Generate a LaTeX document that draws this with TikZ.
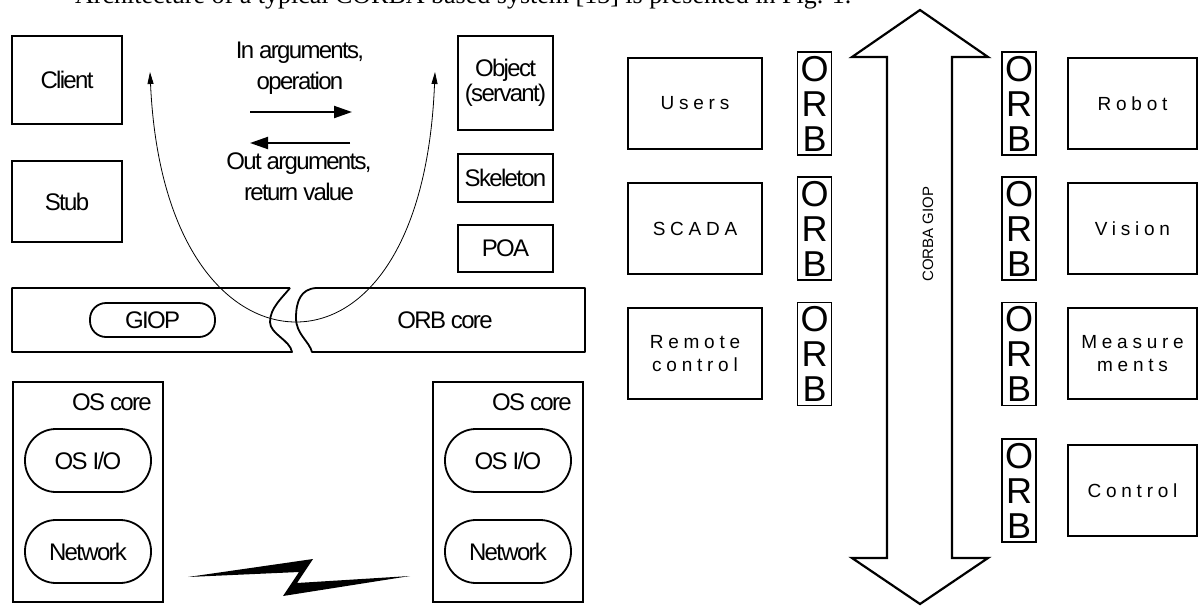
\documentclass[tikz,border=0pt]{standalone}
\usepackage{fontspec}
\setmainfont{Liberation Sans}
\newfontfamily\serifcap{Liberation Serif}
\newfontfamily\tight{Liberation Sans}[LetterSpace=-7]
\newfontfamily\wide{Liberation Sans}[LetterSpace=25]
\usetikzlibrary{arrows.meta}
\begin{document}
\begin{tikzpicture}[x=1pt,y=-1pt,
  lbox/.style={draw, line width=1.8pt, inner sep=0pt, align=center,
     font=\tight\fontsize{24}{25}\selectfont},
  ltxt/.style={inner sep=0pt, align=center, font=\tight\fontsize{24}{31}\selectfont},
  pill/.style={lbox, rounded corners=#1},
  rbox/.style={draw, line width=2pt, inner sep=0pt, align=center,
     minimum width=134pt, minimum height=91pt, font=\wide\fontsize{19}{23}\selectfont},
  orb/.style={draw, line width=1.5pt, inner sep=0pt, align=center,
     minimum width=34pt, minimum height=103pt, font=\fontsize{36}{35}\selectfont},
  thinarrow/.style={line width=0.8pt, -{Triangle[length=12pt,width=6pt]}},
  thickarrow/.style={line width=2pt, -{Triangle[length=18pt,width=12pt]}},
]
\useasboundingbox (0,0) rectangle (1200,606);
\clip (0,0) rectangle (1200,606);

% caption line (cut at the top)
\node[anchor=base west, inner sep=0pt, font=\serifcap\fontsize{26}{30}\selectfont] (cap) at (75,3)
  {Architecture of a typical CORBA based system [13] is presented in Fig. 1.};

% ---------- left diagram ----------
\node[lbox, minimum width=110pt, minimum height=88pt] (client) at (67,80) {Client};
\node[lbox, minimum width=110pt, minimum height=81pt] (stub) at (67,201.5) {Stub};
\node[lbox, minimum width=95pt, minimum height=94pt] (object) at (505.5,83) {Object\\(servant)};
\node[lbox, minimum width=95pt, minimum height=48pt] (skel) at (505.5,178) {Skeleton};
\node[lbox, minimum width=95pt, minimum height=47pt] (poa) at (505.5,248.5) {POA};

% ORB core band with break
\draw[line width=1.8pt, line join=round]
  (290,288) -- (12,288) -- (12,352) -- (292,352)
  .. controls (290,340) and (270,334) .. (270,322)
  .. controls (270,308) and (282,298) .. (290,288);
\draw[line width=1.8pt, line join=round]
  (585,288) -- (316,288) .. controls (301,289) and (296,301) .. (296,318)
  .. controls (296,334) and (309,341) .. (312,352) -- (585,352) -- cycle;
\node[pill=16pt, minimum width=125pt, minimum height=34pt] (giop) at (152.5,320) {GIOP};
\node[ltxt] (orbcore) at (445,320) {ORB core};

% request / reply labels and arrows
\node[ltxt] (inargs) at (300,68) {In arguments,\\operation};
\node[ltxt] (outargs) at (299,177) {Out arguments,\\return value};
\coordinate (ina) at (250,112);
\coordinate (inb) at (352,112);
\coordinate (outa) at (350,143);
\coordinate (outb) at (250,143);
\draw[thickarrow] (ina) -- (inb);
\draw[thickarrow] (outa) -- (outb);

% invocation curve
\coordinate (cl) at (150,72);
\coordinate (cb) at (296,322);
\coordinate (cr) at (435,72);
\draw[thinarrow] (cb) .. controls (230,322) and (158,250) .. (cl);
\draw[thinarrow] (cb) .. controls (362,322) and (428,250) .. (cr);

% OS cores
\node[lbox, minimum width=150pt, minimum height=220pt] (osl) at (88,492) {};
\node[ltxt, anchor=east] (oslt) at (152,402) {OS core};
\node[pill=31pt, minimum width=126pt, minimum height=63pt] (iol) at (88,460.5) {OS I/O};
\node[pill=31pt, minimum width=126pt, minimum height=63pt] (netl) at (88,551.5) {Network};
\node[lbox, minimum width=150pt, minimum height=220pt] (osr) at (508,492) {};
\node[ltxt, anchor=east] (osrt) at (572,402) {OS core};
\node[pill=31pt, minimum width=126pt, minimum height=63pt] (ior) at (508,460.5) {OS I/O};
\node[pill=31pt, minimum width=126pt, minimum height=63pt] (netr) at (508,551.5) {Network};

% lightning
\fill (188,577) -- (313,559) -- (297,583) -- (410,576) -- (283,596) -- (299,572) -- cycle;

% ---------- right diagram ----------
\node[rbox] (users) at (695,103.5) {Users};
\node[rbox] (scada) at (695,228.5) {SCADA};
\node[rbox] (remote) at (695,353.5) {Remote\\control};
\node[orb] (o1) at (814.5,103.5) {O\\R\\B};
\node[orb] (o2) at (814.5,228.5) {O\\R\\B};
\node[orb] (o3) at (814.5,354) {O\\R\\B};

\node[orb] (o4) at (1019,103.5) {O\\R\\B};
\node[orb] (o5) at (1019,228.5) {O\\R\\B};
\node[orb] (o6) at (1019,354) {O\\R\\B};
\node[orb] (o7) at (1019,490.5) {O\\R\\B};
\node[rbox, minimum width=129pt] (robot) at (1132.5,103.5) {Robot};
\node[rbox, minimum width=129pt] (vision) at (1132.5,228.5) {Vision};
\node[rbox, minimum width=129pt] (meas) at (1132.5,353.5) {Measure\\ments};
\node[rbox, minimum width=129pt] (ctrl) at (1132.5,490.5) {Control};

% CORBA GIOP double arrow
\draw[line width=2.2pt, line join=miter]
  (920,10) -- (988,57) -- (952,57) -- (952,558) -- (988,558) -- (920,604)
  -- (852,558) -- (887,558) -- (887,57) -- (852,57) -- cycle;
\node[rotate=90, inner sep=0pt, font=\fontsize{15}{17}\selectfont] (bus) at (928,234) {CORBA GIOP};
\end{tikzpicture}
\end{document}
